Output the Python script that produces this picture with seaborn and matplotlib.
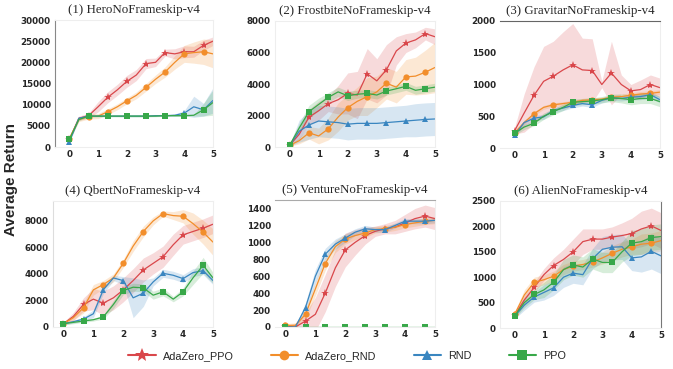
import matplotlib
matplotlib.use("Agg")
import matplotlib.pyplot as plt
from matplotlib.lines import Line2D
import seaborn as sns

# x positions (million steps) of the recorded points
steps = [0, 0.33, 0.67, 1.0, 1.33, 1.67, 2.0, 2.33, 2.67, 3.0, 3.33, 3.67, 4.0, 4.33, 4.67, 5.0]

methods = ["AdaZero_PPO", "AdaZero_RND", "RND", "PPO"]
colors = ["#d9474b", "#f28e2b", "#3a86c0", "#38a849"]
markers = ["*", "o", "^", "s"]

titles = ["(1) HeroNoFrameskip-v4", "(2) FrostbiteNoFrameskip-v4", "(3) GravitarNoFrameskip-v4",
          "(4) QbertNoFrameskip-v4", "(5) VentureNoFrameskip-v4", "(6) AlienNoFrameskip-v4"]

# ---- (1) Hero
hero_mean = [
    [1800, 6800, 7400, 9500, 11700, 13500, 15500, 17000, 19700, 20000, 22300, 22000, 22500, 22500, 24000, 25000],
    [2000, 6500, 7200, 7300, 8300, 9500, 10900, 12200, 14100, 16000, 17700, 20000, 22000, 22300, 22500, 22000],
    [1200, 6800, 7300, 7300, 7300, 7300, 7300, 7300, 7300, 7400, 7400, 7500, 8000, 9500, 8800, 11000],
    [1800, 6500, 7300, 7300, 7300, 7300, 7300, 7300, 7300, 7300, 7400, 7400, 7400, 7500, 8800, 10500],
]
hero_sd = [
    [300, 500, 600, 1200, 1300, 1300, 1400, 1300, 1200, 1000, 800, 1200, 1400, 1300, 1200, 1000],
    [300, 500, 600, 600, 700, 700, 700, 800, 900, 1000, 1200, 1600, 2000, 2500, 3000, 3300],
    [200, 300, 200, 150, 150, 150, 150, 150, 150, 150, 200, 300, 600, 2500, 1500, 3000],
    [200, 300, 200, 150, 150, 150, 200, 200, 200, 150, 150, 150, 150, 200, 1500, 3000],
]

# ---- (2) Frostbite
frost_mean = [
    [100, 800, 1900, 2300, 2750, 3000, 3400, 3300, 4650, 4200, 4900, 6100, 6600, 6800, 7200, 7000],
    [100, 400, 900, 700, 1150, 1900, 2500, 2900, 3200, 3500, 4050, 3800, 4450, 4500, 4750, 5050],
    [100, 1000, 1400, 1650, 1600, 1550, 1450, 1500, 1500, 1500, 1550, 1600, 1650, 1700, 1750, 1780],
    [100, 1200, 2250, 2700, 3150, 3500, 3250, 3350, 3400, 3300, 3550, 3700, 3850, 3600, 3700, 3800],
]
frost_sd = [
    [50, 300, 500, 600, 500, 900, 1300, 1500, 1600, 1400, 1600, 900, 600, 500, 400, 500],
    [50, 200, 400, 500, 700, 900, 800, 900, 1200, 1000, 1000, 1000, 1100, 1200, 1400, 1600],
    [50, 700, 900, 1000, 1000, 1000, 1000, 1000, 1000, 1000, 1000, 1000, 1000, 1050, 1050, 1050],
    [50, 300, 400, 400, 300, 300, 300, 250, 250, 250, 250, 250, 250, 250, 250, 250],
]

# ---- (3) Gravitar
grav_mean = [
    [270, 550, 830, 1050, 1130, 1230, 1310, 1230, 1220, 1000, 1180, 1000, 900, 920, 1000, 950],
    [240, 400, 540, 640, 680, 700, 720, 750, 760, 770, 800, 810, 830, 850, 860, 880],
    [200, 400, 470, 490, 590, 630, 670, 700, 680, 750, 790, 780, 800, 810, 840, 760],
    [230, 330, 390, 500, 570, 640, 720, 730, 740, 760, 790, 780, 760, 780, 780, 730],
]
grav_sd = [
    [50, 300, 450, 550, 550, 600, 650, 500, 500, 50, 500, 150, 100, 150, 150, 150],
    [30, 30, 30, 30, 30, 30, 30, 30, 30, 30, 30, 40, 40, 40, 40, 40],
    [30, 40, 40, 40, 40, 40, 40, 40, 40, 40, 40, 40, 40, 50, 50, 50],
    [30, 40, 40, 50, 50, 50, 50, 50, 50, 50, 60, 70, 80, 80, 80, 80],
]

# ---- (4) Qbert
qbert_mean = [
    [250, 800, 1700, 2100, 1800, 2200, 2800, 3500, 4300, 4800, 5300, 6200, 6950, 7200, 7450, 7750],
    [250, 700, 1450, 2800, 3200, 3700, 4800, 6100, 7200, 8000, 8550, 8400, 8350, 7800, 7150, 6400],
    [250, 400, 600, 1000, 2800, 3700, 3500, 2200, 2550, 3400, 4050, 3900, 3650, 4100, 4250, 3500],
    [250, 350, 450, 550, 750, 1700, 2750, 3000, 2950, 2400, 2650, 2100, 2650, 3700, 4650, 3700],
]
qbert_sd = [
    [100, 300, 500, 800, 900, 900, 900, 900, 900, 800, 800, 800, 700, 700, 700, 700],
    [100, 200, 400, 400, 300, 300, 300, 400, 400, 300, 200, 300, 500, 800, 900, 1000],
    [100, 100, 150, 300, 300, 200, 300, 1500, 1000, 300, 300, 300, 300, 300, 300, 300],
    [100, 100, 100, 100, 150, 300, 300, 300, 300, 300, 300, 200, 300, 500, 600, 400],
]

# ---- (5) Venture
venture_mean = [
    [10, 0, 70, 150, 400, 700, 910, 1000, 1080, 1130, 1160, 1180, 1230, 1280, 1310, 1280],
    [20, 20, 150, 450, 750, 950, 1040, 1080, 1110, 1150, 1160, 1180, 1210, 1230, 1250, 1260],
    [0, 0, 230, 600, 860, 980, 1050, 1120, 1160, 1150, 1150, 1200, 1250, 1250, 1250, 1260],
    [0, 0, 0, 0, 0, 0, 0, 0, 0, 0, 0, 0, 0, 0, 0, 0],
]
venture_sd = [
    [10, 40, 100, 200, 220, 220, 200, 150, 100, 60, 60, 80, 100, 120, 130, 130],
    [20, 30, 60, 80, 80, 70, 60, 50, 50, 40, 40, 40, 40, 40, 40, 40],
    [0, 10, 60, 80, 70, 60, 50, 40, 40, 30, 30, 30, 30, 30, 30, 30],
    [0, 0, 0, 0, 0, 0, 0, 0, 0, 0, 0, 0, 0, 0, 0, 0],
]

# ---- (6) Alien
alien_mean = [
    [250, 550, 800, 1050, 1230, 1350, 1500, 1700, 1750, 1750, 1790, 1820, 1860, 1950, 2010, 1920],
    [270, 650, 900, 950, 1020, 1150, 1220, 1250, 1300, 1380, 1470, 1550, 1600, 1650, 1670, 1720],
    [230, 450, 610, 700, 790, 1000, 1080, 1050, 1370, 1550, 1590, 1600, 1380, 1400, 1510, 1420],
    [240, 500, 660, 750, 900, 1150, 1240, 1200, 1360, 1290, 1290, 1500, 1670, 1700, 1780, 1800],
]
alien_sd = [
    [50, 100, 100, 120, 150, 200, 250, 250, 200, 200, 200, 250, 300, 350, 350, 350],
    [50, 100, 100, 100, 100, 100, 100, 100, 100, 120, 150, 150, 150, 200, 200, 200],
    [50, 100, 100, 150, 150, 200, 200, 200, 200, 250, 250, 250, 250, 300, 350, 350],
    [50, 100, 100, 150, 150, 200, 200, 200, 200, 200, 200, 200, 250, 250, 250, 250],
]

panels = [
    (hero_mean, hero_sd, 30000, [0, 5000, 10000, 15000, 20000, 25000, 30000], -0.5),
    (frost_mean, frost_sd, 8000, [0, 2000, 4000, 6000, 8000], -0.5),
    (grav_mean, grav_sd, 2000, [0, 500, 1000, 1500, 2000], -0.5),
    (qbert_mean, qbert_sd, 9500, [0, 2000, 4000, 6000, 8000], -0.35),
    (venture_mean, venture_sd, 1500, [0, 200, 400, 600, 800, 1000, 1200, 1400], -0.35),
    (alien_mean, alien_sd, 2500, [0, 500, 1000, 1500, 2000, 2500], -0.5),
]

sns.set_style("white")
fig = plt.figure(figsize=(6.73, 3.69), dpi=100)

# axes boxes in pixels: left, right, top, bottom
boxes = [(55, 213, 20, 147), (275, 435, 21, 147), (500, 660, 21, 148),
         (53, 213, 201, 327), (275, 435, 200, 327), (500, 661, 201, 328)]

for i, (means, sds, ymax, yticks, xmin) in enumerate(panels):
    l, r, t, b = boxes[i]
    ax = fig.add_axes([l / 673, 1 - b / 369, (r - l) / 673, (b - t) / 369])
    for m in range(4):
        mean = means[m]
        sd = sds[m]
        lo = [a - s for a, s in zip(mean, sd)]
        hi = [a + s for a, s in zip(mean, sd)]
        ax.fill_between(steps, lo, hi, color=colors[m], alpha=0.2, linewidth=0)
        sns.lineplot(x=steps, y=mean, ax=ax, color=colors[m], linewidth=0.9,
                     marker=markers[m], markersize=6 if markers[m] == "*" else 4.5,
                     markeredgewidth=0, markevery=2, errorbar=None, legend=False)
    ax.set_xlim(xmin, 5)
    ax.set_ylim(0, ymax)
    ax.set_xticks([0, 1, 2, 3, 4, 5])
    ax.set_yticks(yticks)
    ax.tick_params(labelsize=6.3, length=0, pad=2)
    ax.tick_params(axis="y", length=1.5, width=0.6, color="#999999", pad=1.5)
    for lab in ax.get_xticklabels() + ax.get_yticklabels():
        lab.set_fontweight("bold")
    ax.set_title(titles[i], fontsize=9.3, family="Liberation Serif", pad=5)
    for s in ax.spines.values():
        s.set_color("#eeeeee")
        s.set_linewidth(0.8)
    if i == 0:
        ax.spines["left"].set_color("#888888")
    if i == 2:
        ax.spines["top"].set_color("#666666")
        ax.spines["left"].set_visible(False)
    if i == 3:
        ax.spines["left"].set_color("#dddddd")
    if i == 4:
        ax.spines["top"].set_color("#aaaaaa")
        ax.spines["left"].set_visible(False)
    if i == 5:
        ax.spines["right"].set_color("#777777")

fig.text(0.017, 1 - 179 / 369, "Average Return", rotation=90, va="center", ha="center",
         fontsize=11, fontweight="bold", family="Liberation Sans")

handles = [Line2D([0], [0], color=colors[m], marker=markers[m], linewidth=1.5,
                  markersize=10 if markers[m] == "*" else 7, markeredgewidth=0)
           for m in range(4)]
fig.legend(handles, methods, loc="center", bbox_to_anchor=(0.516, 0.035), ncol=4,
           frameon=False, prop={"family": "Liberation Sans", "size": 7.8},
           columnspacing=3.4, handlelength=2.5, handletextpad=0.7)

fig.savefig("out.png", dpi=100)
